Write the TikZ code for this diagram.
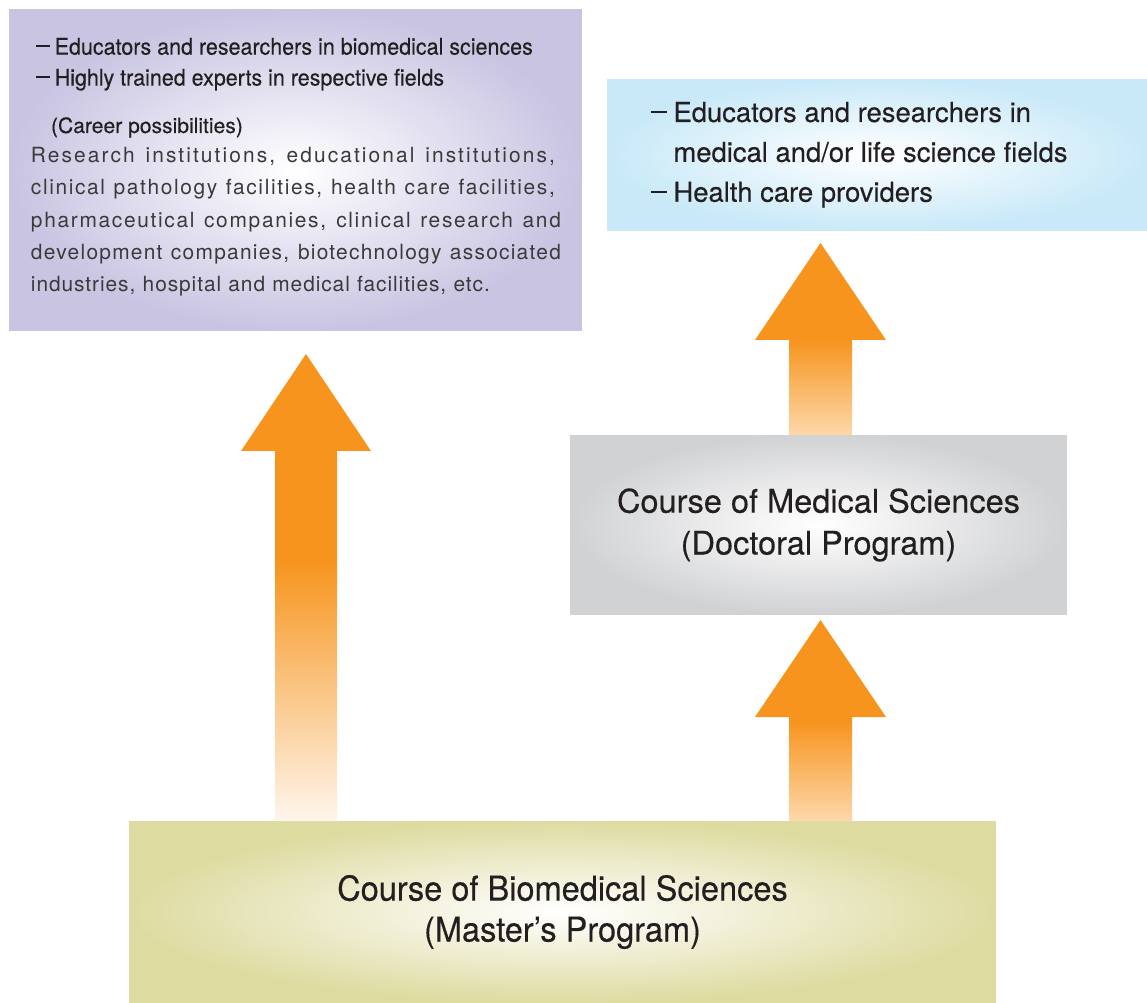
\documentclass[tikz,border=0pt]{standalone}
\usepackage{fontspec}
\setmainfont{TeX Gyre Heros}
\newfontfamily\headfont[FakeBold=0.3]{TeX Gyre Heros}
\newfontfamily\narrowfont[FakeBold=0.3,FakeStretch=0.94]{TeX Gyre Heros}
\newfontfamily\wideheadfont[FakeBold=0.3,FakeStretch=0.95]{TeX Gyre Heros}
\newfontfamily\spacedfont{TeX Gyre Heros}
\usetikzlibrary{calc}

\definecolor{inkdark}{HTML}{231F20}
\definecolor{inkgray}{HTML}{3A3A3A}
\definecolor{careerlilac}{HTML}{C8C4E2}
\definecolor{outcomeblue}{HTML}{C9E9F8}
\definecolor{doctorgray}{HTML}{D1D2D4}
\definecolor{masterolive}{HTML}{DEDBA1}
\definecolor{arroworange}{HTML}{F7941D}
\definecolor{fadewhite}{HTML}{FEF6EC}
\definecolor{fadepeach}{HTML}{FDD8AA}

\pgfdeclareverticalshading{longfade}{100bp}{color(0bp)=(fadewhite); color(25bp)=(fadewhite); color(53bp)=(arroworange); color(100bp)=(arroworange)}
\pgfdeclareverticalshading{shortfade}{100bp}{color(0bp)=(fadepeach); color(25bp)=(fadepeach); color(50bp)=(arroworange); color(100bp)=(arroworange)}

\newcommand\bardash{\rule[0.33em]{0.6em}{0.08em}\hspace{0.22em}}
% letter spacing, line width, text
\newcommand\listline[3]{{\addfontfeature{LetterSpace=#1}\makebox[#2][s]{#3}}}

\begin{document}
\begin{tikzpicture}[x=0.02cm,y=-0.02cm]
        \tikzstyle{every node}=[inner sep=0pt,outer sep=0pt,text=inkdark]
        \tikzstyle{panel}=[rectangle,inner color=white]
        \useasboundingbox (0,0) rectangle (1147,1003);

        % career possibilities
        \node[panel,outer color=careerlilac,minimum width=11.46cm,minimum height=6.44cm] (career) at (295.5,170) {};
        \node[anchor=north west,align=left,font=\narrowfont\fontsize{13}{17.6}\selectfont] (careerhead) at (36,38) {\bardash Educators and researchers in biomedical sciences\\\bardash Highly trained experts in respective fields};
        \node[anchor=base west,font=\headfont\fontsize{12}{15}\selectfont] (careerlabel) at (51,133) {(Career possibilities)};
        \node[anchor=north west,align=left,text=inkgray,font=\spacedfont\fontsize{11.9}{18.3}\selectfont] (careerlist) at (31,147.5) {\listline{10}{10.48cm}{Research institutions, educational institutions,}\\\listline{7.8}{10.48cm}{clinical pathology facilities, health care facilities,}\\\listline{8}{10.6cm}{pharmaceutical companies, clinical research and}\\\listline{6}{10.6cm}{development companies, biotechnology associated}\\\listline{4.4}{9.18cm}{industries, hospital and medical facilities, etc.}};

        % doctoral outcome
        \node[panel,outer color=outcomeblue,minimum width=10.8cm,minimum height=3.04cm] (outcome) at (877,155) {};
        \node[anchor=north west,align=left,font=\headfont\fontsize{15.6}{22.7}\selectfont] (outcometext) at (651,102) {\bardash Educators and researchers in\\\phantom{\bardash}medical and/or life science fields\\\bardash Health care providers};

        % doctoral program
        \node[panel,outer color=doctorgray,minimum width=9.94cm,minimum height=3.6cm,align=center,font=\headfont\fontsize{18.5}{23.8}\selectfont] (doctor) at (818.5,525) {Course of Medical Sciences\\(Doctoral Program)};

        % master's program
        \node[panel,outer color=masterolive,minimum width=17.34cm,minimum height=3.64cm,align=center,font=\wideheadfont\fontsize{19.5}{23.3}\selectfont] (master) at (562.5,912) {Course of Biomedical Sciences\\(Master’s Program)};

        % arrows
        \coordinate (lefttip) at (306,354);
        \coordinate (uppertip) at (820.5,243);
        \coordinate (lowertip) at (820.5,620);
        \path[shading=longfade] (lefttip |- master.north) -- ++(-31,0) |- ($(lefttip)+(-65,97)$) -- (lefttip) -- ($(lefttip)+(65,97)$) -| ($(lefttip |- master.north)+(31,0)$) -- cycle;
        \path[shading=shortfade] (uppertip |- doctor.north) -- ++(-31.5,0) |- ($(uppertip)+(-65.5,97)$) -- (uppertip) -- ($(uppertip)+(65.5,97)$) -| ($(uppertip |- doctor.north)+(31.5,0)$) -- cycle;
        \path[shading=shortfade] (lowertip |- master.north) -- ++(-31.5,0) |- ($(lowertip)+(-65.5,97)$) -- (lowertip) -- ($(lowertip)+(65.5,97)$) -| ($(lowertip |- master.north)+(31.5,0)$) -- cycle;

    \end{tikzpicture}
\end{document}
